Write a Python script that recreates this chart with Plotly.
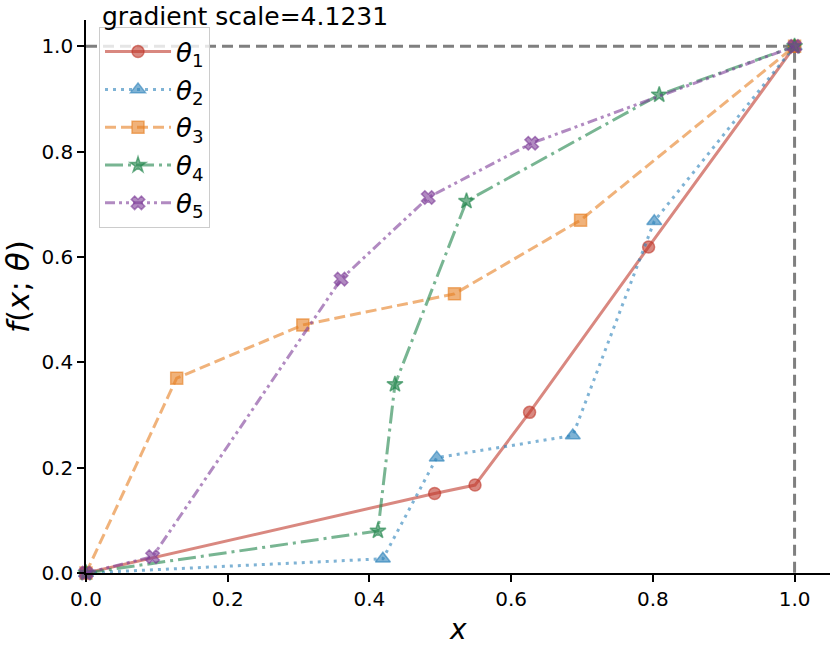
import plotly.graph_objects as go

# ---- data ----
theta1_x = [0.0, 0.492, 0.549, 0.626, 0.794, 1.0]
theta1_y = [0.0, 0.151, 0.167, 0.305, 0.619, 1.0]
theta2_x = [0.0, 0.419, 0.495, 0.687, 0.802, 1.0]
theta2_y = [0.0, 0.027, 0.219, 0.261, 0.668, 1.0]
theta3_x = [0.0, 0.128, 0.306, 0.520, 0.698, 1.0]
theta3_y = [0.0, 0.370, 0.471, 0.530, 0.670, 1.0]
theta4_x = [0.0, 0.412, 0.436, 0.537, 0.809, 1.0]
theta4_y = [0.0, 0.080, 0.358, 0.706, 0.908, 1.0]
theta5_x = [0.0, 0.094, 0.360, 0.483, 0.629, 1.0]
theta5_y = [0.0, 0.031, 0.558, 0.713, 0.816, 1.0]
ref_x = [0.0, 1.0, 1.0]
ref_y = [1.0, 1.0, 0.0]
labels = ["<i>θ</i><sub>1</sub>", "<i>θ</i><sub>2</sub>", "<i>θ</i><sub>3</sub>",
          "<i>θ</i><sub>4</sub>", "<i>θ</i><sub>5</sub>"]
title_text = "gradient scale=4.1231"
x_ticks = [0.0, 0.2, 0.4, 0.6, 0.8, 1.0]
y_ticks = [0.0, 0.2, 0.4, 0.6, 0.8, 1.0]

colors = [(192, 57, 43), (41, 128, 185), (230, 126, 34), (30, 132, 73), (125, 60, 152)]
symbols = ["circle", "triangle-up", "square", "star", "x"]
dashes = ["solid", "3px,5px", "11px,5px", "18px,5px,3px,5px", "10px,4px,3px,4px,3px,4px"]
sizes = [12, 13, 12, 12, 12]
series_x = [theta1_x, theta2_x, theta3_x, theta4_x, theta5_x]
series_y = [theta1_y, theta2_y, theta3_y, theta4_y, theta5_y]

fig = go.Figure()
fig.add_trace(go.Scatter(x=ref_x, y=ref_y, mode="lines", showlegend=False,
                         line=dict(color="rgba(0,0,0,0.5)", width=3, dash="11px,6px"),
                         hoverinfo="skip", cliponaxis=False))

for i in range(5):
    r, g, b = colors[i]
    c = f"rgba({r},{g},{b},0.6)"
    fig.add_trace(go.Scatter(
        x=series_x[i], y=series_y[i], mode="lines+markers", name=labels[i],
        legendgroup=f"g{i}",
        line=dict(color=c, width=3, dash=dashes[i]),
        marker=dict(symbol=symbols[i], size=sizes[i], color=c,
                    line=dict(color=c, width=1.5)),
        cliponaxis=False))

font = "DejaVu Sans"
fig.update_layout(
    width=830, height=646,
    margin=dict(l=86, r=0, t=20, b=73),
    paper_bgcolor="white", plot_bgcolor="white",
    font=dict(family=font, color="black", size=20),
    showlegend=True,
    legend=dict(x=0.0175, y=0.987, xanchor="left", yanchor="top",
                bgcolor="rgba(255,255,255,0.8)", bordercolor="#cccccc", borderwidth=1,
                font=dict(family=font, size=26, color="black"),
                itemwidth=66, tracegroupgap=1),
    xaxis=dict(range=[0, 1.05], tickvals=x_ticks, ticktext=[f"{v:.1f}" for v in x_ticks],
               showgrid=False, zeroline=False, showline=True, linecolor="black", linewidth=1.6,
               ticks="outside", ticklen=7, tickwidth=1.6, tickcolor="black",
               tickfont=dict(size=20, family=font)),
    yaxis=dict(range=[0, 1.05], tickvals=y_ticks, ticktext=[f"{v:.1f}" for v in y_ticks],
               showgrid=False, zeroline=False, showline=True, linecolor="black", linewidth=1.6,
               ticks="outside", ticklen=7, tickwidth=1.6, tickcolor="black",
               tickfont=dict(size=20, family=font)),
    annotations=[
        dict(text=title_text, xref="paper", yref="paper", x=0.0188, y=573 / 553,
             xanchor="left", yanchor="top", showarrow=False,
             font=dict(size=25, family=font, color="black")),
        dict(text="<i>x</i>", xref="paper", yref="paper", x=(458 - 86) / 744, y=-(629 - 573) / 553,
             xanchor="center", yanchor="middle", showarrow=False,
             font=dict(size=28, family=font, color="black")),
        dict(text="<i>f</i>(<i>x</i>; <i>θ</i>)", xref="paper", yref="paper",
             x=-(86 - 18) / 744, y=(573 - 287) / 553, textangle=-90,
             xanchor="center", yanchor="middle", showarrow=False,
             font=dict(size=31, family=font, color="black")),
    ],
)

fig.write_html("out.html", config={"displayModeBar": False},
               post_script="document.body.style.margin='0px';")
